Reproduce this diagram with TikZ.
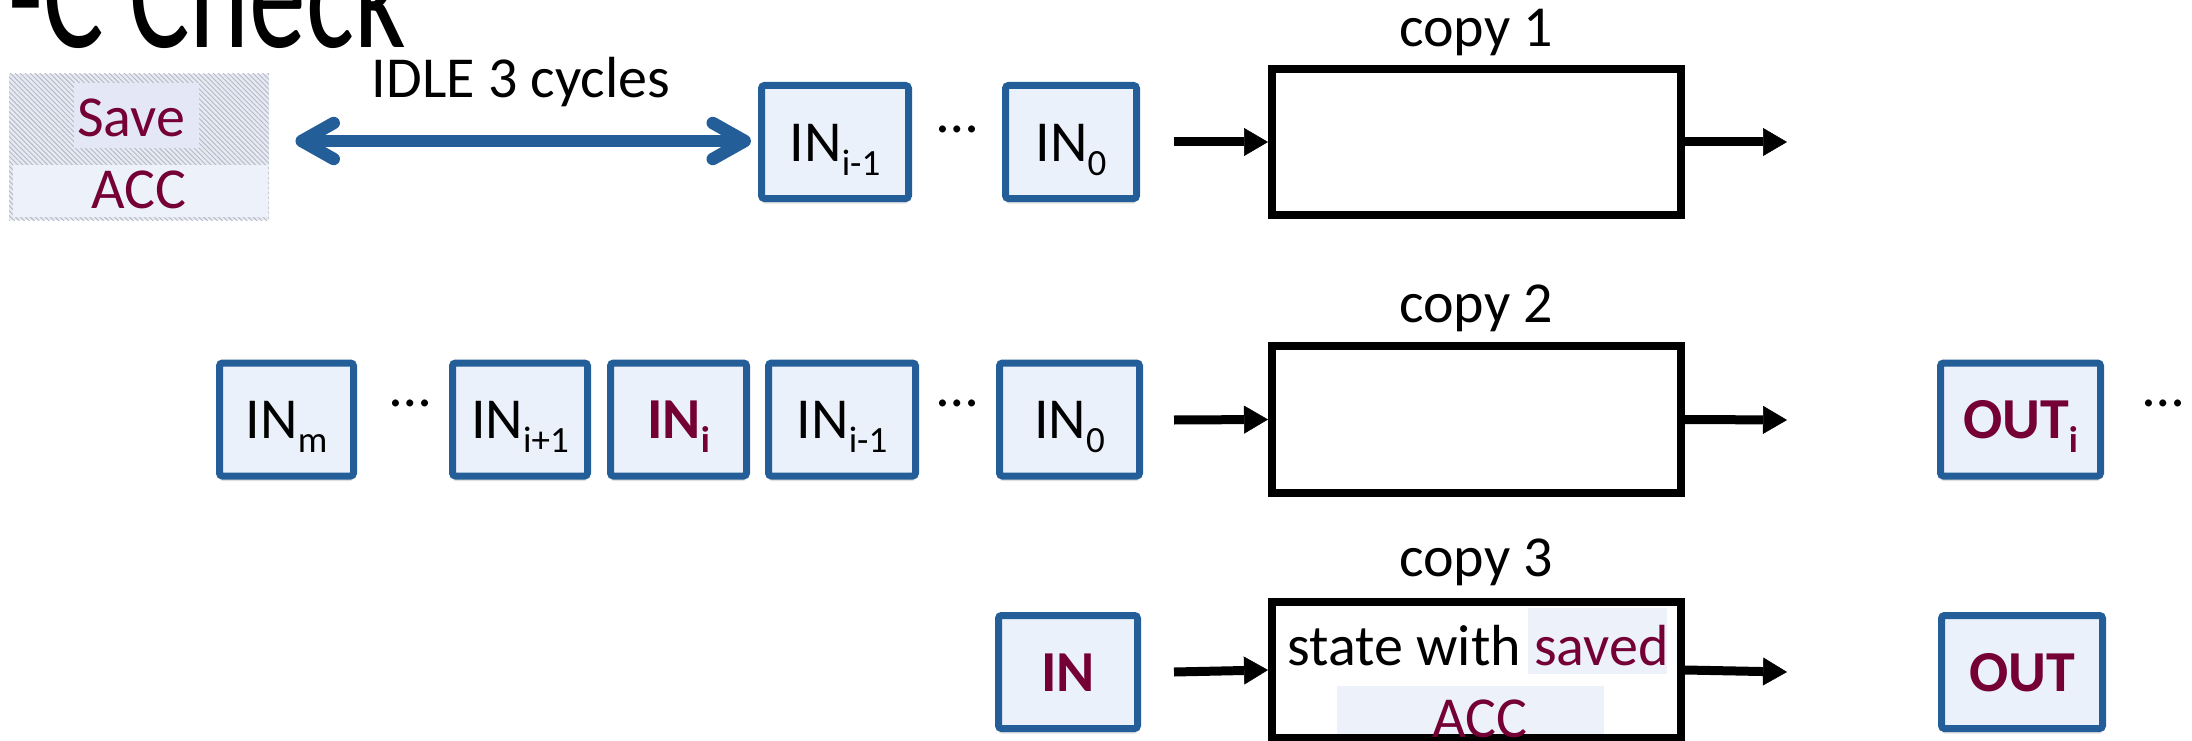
\documentclass[tikz,border=0pt]{standalone}
\usepackage{fontspec}
\setmainfont{Carlito}
\usetikzlibrary{arrows.meta,patterns.meta,shadows}
\definecolor{blu}{HTML}{245E98}
\definecolor{boxfill}{HTML}{EAF1FA}
\definecolor{accred}{HTML}{740035}
\definecolor{hatchbg}{HTML}{E8EAF2}
\definecolor{hatchln}{HTML}{B4B8C8}
\definecolor{savehl}{HTML}{E4E8F6}
\definecolor{acchl}{HTML}{ECF1FA}
\newcommand{\fsz}[1]{\fontsize{#1}{#1}\selectfont}
\newcommand{\subtx}[1]{\raisebox{-14pt}{\fsz{37}#1}}
\begin{document}
\begin{tikzpicture}[x=1pt,y=-1pt,
  inbox/.style={draw=blu, line width=7pt, fill=boxfill, rounded corners=3pt,
    minimum height=113pt, inner sep=0pt, text height=42pt, text depth=4pt,
    font=\fsz{58},
    drop shadow={shadow xshift=0pt, shadow yshift=-5pt, fill=black!35, opacity=0.35}},
  copybox/.style={draw=black, line width=8pt, minimum width=409pt,
    minimum height=146pt, inner sep=0pt},
  arr/.style={-{Triangle[length=24pt,width=28pt,line width=0.5pt]}, line width=9pt},
  lbl/.style={anchor=base, inner sep=0pt, font=\fsz{58}},
  dots/.style={anchor=base, inner sep=0pt, font=\fsz{58}},
  bold/.style={font=\fsz{58}\bfseries, text=accred}
]
\useasboundingbox (0,0) rectangle (2192,741);

% title (cut off at the top and left, as in the reference)
\node[anchor=base east, inner sep=0pt] (title) at (406,48)
  {\scalebox{0.71}[1]{\fsz{160}-C Check}};

% Save / ACC box
\node[minimum width=260pt, minimum height=146pt, inner sep=0pt,
  preaction={fill=hatchbg},
  pattern={Lines[angle=-45,distance=3.5pt,line width=0.9pt]}, pattern color=hatchln]
  (save) at (139,147) {};
\fill[savehl] (74,83) rectangle (199,148);
\fill[acchl] (13,165) rectangle (268,217);
\node[lbl, text=accred] (savetxt) at (131,137) {Save};
\node[lbl, text=accred] (acctxt) at (139,208) {ACC};

% IDLE label
\node[lbl] (idle) at (521,98) {IDLE 3 cycles};

% row 1
\node[inbox, minimum width=147pt] (a1) at (835,142) {IN\subtx{i-1}};
\node[dots] (d1) at (958,133) {\ldots};
\node[inbox, minimum width=131pt] (b1) at (1071,142) {IN\subtx{0}};
\node[copybox] (c1) at (1476.5,142) {};
\node[lbl] (cl1) at (1476,47) {copy 1};
\coordinate (i1) at (1174,142);
\coordinate (o1) at (1787,142);
\draw[arr] (i1) -- (c1.west);
\draw[arr] (c1.east) -- (o1);

% double arrow
\draw[blu, line width=12.5pt, shorten <=26pt, shorten >=7pt,
  {Straight Barb[length=32pt,width=36pt,round]}-{Straight Barb[length=32pt,width=36pt,round]}]
  (save.east |- 0,141) -- (a1.west |- 0,141);

% row 2
\node[inbox, minimum width=134pt] (m2) at (286.5,419.5) {IN\subtx{m}};
\node[dots] (d2a) at (411,406) {\ldots};
\node[inbox, minimum width=135pt] (p2) at (520,419.5) {IN\subtx{i+1}};
\node[inbox, minimum width=136pt, bold] (i2) at (678.5,419.5) {IN\subtx{i}};
\node[inbox, minimum width=147pt] (a2) at (842,419.5) {IN\subtx{i-1}};
\node[dots] (d2b) at (958,406) {\ldots};
\node[inbox, minimum width=140pt] (b2) at (1069.5,419.5) {IN\subtx{0}};
\node[copybox, minimum height=147pt] (c2) at (1476.5,419.5) {};
\node[lbl] (cl2) at (1476,322) {copy 2};
\coordinate (i2in) at (1174,420);
\coordinate (o2) at (1787,420);
\draw[arr] (i2in) -- (c2.west);
\draw[arr] (c2.east) -- (o2);
\node[inbox, minimum width=160pt, bold] (out2) at (2020.5,419.5) {OUT\subtx{i}};
\node[dots] (d2c) at (2163,406) {\ldots};

% row 3
\fill[acchl] (1528,608) rectangle (1667,674);
\fill[acchl] (1337,686) rectangle (1604,742);
\node[inbox, minimum width=139pt, bold] (b3) at (1068,672) {IN};
\node[copybox, minimum height=136pt] (c3) at (1476.5,670) {};
\node[lbl] (cl3) at (1476,576) {copy 3};
\node[lbl] (st) at (1478,665) {state with \textcolor{accred}{saved}};
\node[lbl, text=accred] (acc3) at (1480,737) {ACC};
\coordinate (i3) at (1174,672);
\coordinate (o3) at (1787,672);
\draw[arr] (i3) -- (c3.west);
\draw[arr] (c3.east) -- (o3);
\node[inbox, minimum width=161pt, bold] (out3) at (2022,672) {OUT};
\end{tikzpicture}
\end{document}
